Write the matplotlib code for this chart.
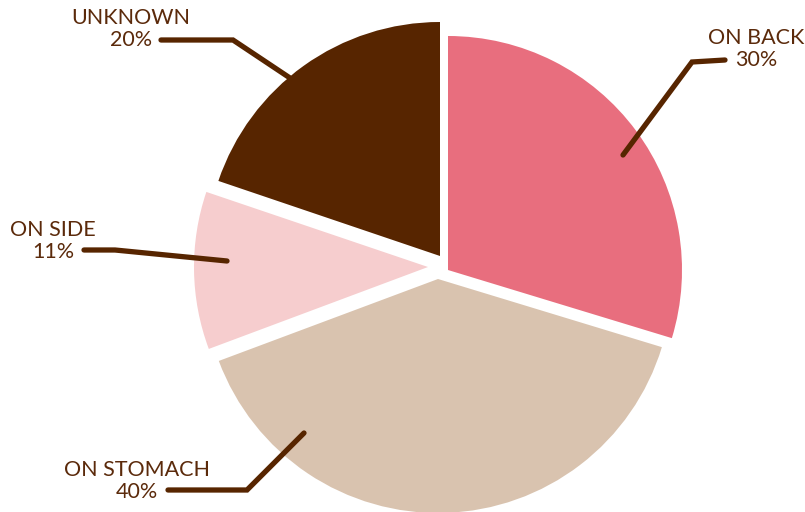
import matplotlib.pyplot as plt
import numpy as np

# Sleeping position share (%), slices drawn clockwise from 12 o'clock
labels = ['ON BACK', 'ON STOMACH', 'ON SIDE', 'UNKNOWN']
values = [30, 40, 11, 20]
colors = ['#E86E7E', '#D9C3AF', '#F6CDCE', '#572500']

text_color = '#5B2A0B'
line_color = '#572500'

# layout in pixel units (y measured from the bottom)
center = (439, 244)
radius = 234
shifts = [(9, -2), (-1, -11), (-11, 1), (1, 12)]     # small separation per slice
label_pos = [(756, 463), (137, 31), (53, 271), (131, 483)]
# leader line: anchor inside slice -> elbow -> end near the text
leaders = [
    [(623, 357), (692, 450), (725, 452)],
    [(304, 79), (247, 22), (168, 22)],
    [(227, 251), (115, 262), (84, 262)],
    [(290, 434), (233, 472), (161, 472)],
]

fig = plt.figure(figsize=(8.05, 5.12), dpi=100)
ax = fig.add_axes([0, 0, 1, 1])

wedges, _ = ax.pie(values, colors=colors, startangle=90, counterclock=False,
                   center=center, radius=radius, frame=True,
                   wedgeprops=dict(linewidth=0))
for w, (dx, dy) in zip(wedges, shifts):
    w.set_center((center[0] + dx, center[1] + dy))

ax.set_xlim(0, 805)
ax.set_ylim(0, 512)
ax.set_aspect('equal')
ax.axis('off')

for lab, val, (tx, ty), pts in zip(labels, values, label_pos, leaders):
    xs, ys = zip(*pts)
    ax.plot(xs, ys, color=line_color, lw=3.8, solid_capstyle='round',
            solid_joinstyle='miter')
    ax.text(tx, ty, f'{lab}\n{val}%', ha='center', va='center',
            multialignment='center', color=text_color, fontsize=15.5,
            family='Lato', linespacing=1.1)

plt.savefig('out.png', dpi=100)
plt.close()
